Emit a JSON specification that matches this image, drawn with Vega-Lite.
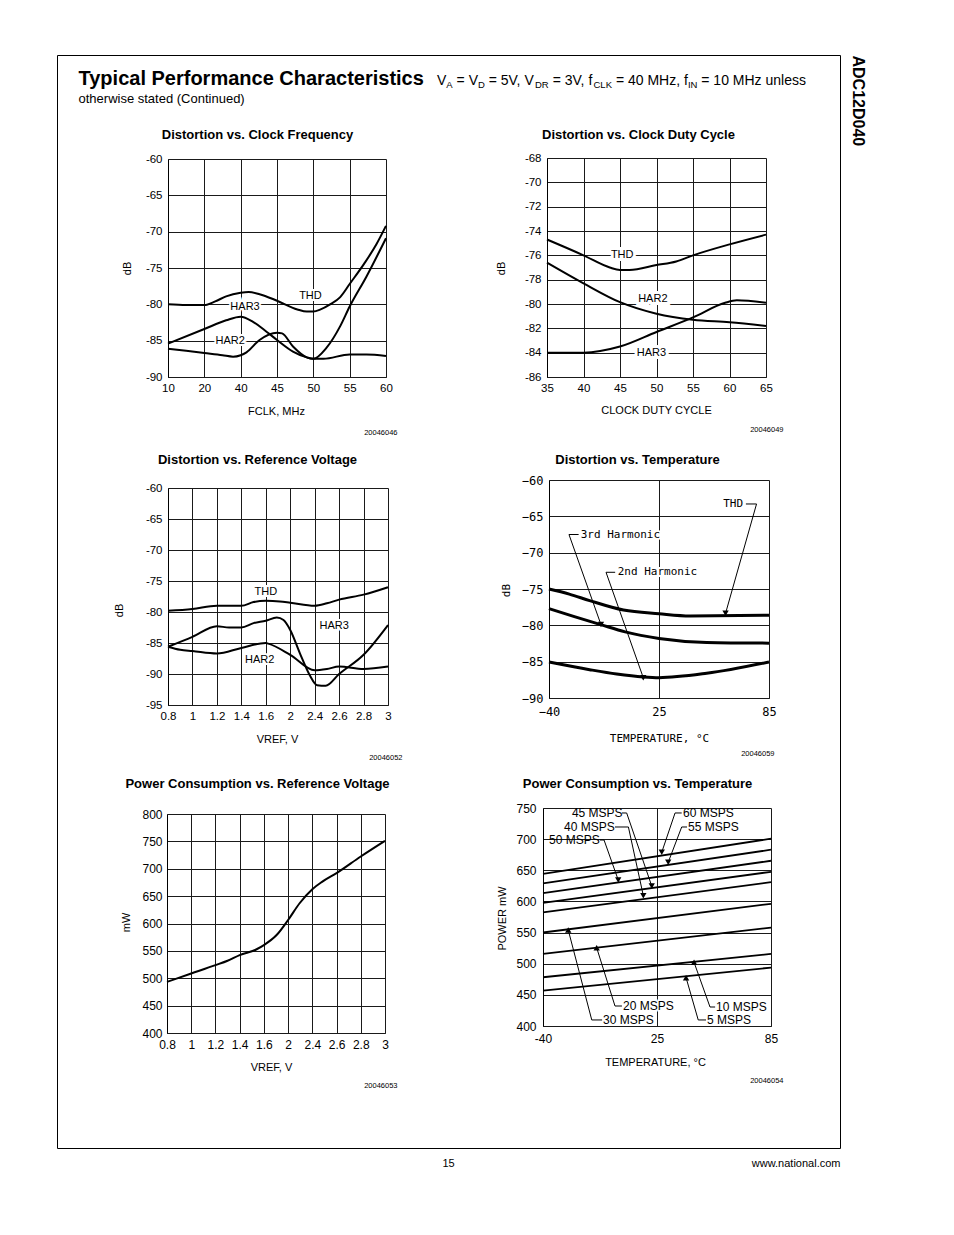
{
  "$schema": "https://vega.github.io/schema/vega-lite/v6.json",
  "width": 954,
  "height": 1235,
  "autosize": "none",
  "padding": 0,
  "background": "#ffffff",
  "config": {
    "font": "Liberation Sans",
    "view": {"stroke": null},
    "axis": {
      "grid": false, "labelFlush": false, "labelOverlap": false,
      "labelFontSize": 11.5, "labelColor": "#000000", "titleColor": "#000000",
      "titleFontSize": 11, "titleFontWeight": "normal", "titleLimit": 1000, "labelLimit": 1000,
      "tickColor": "#1a1a1a", "domainColor": "#000000", "tickWidth": 1, "domainWidth": 1,
      "titleBaseline": "middle", "titleAlign": "center"
    }
  },
  "resolve": {"scale": {"x": "independent", "y": "independent"}, "axis": {"x": "independent", "y": "independent"}},
  "layer": [
    {
      "resolve": {"axis": {"x": "independent", "y": "independent"}},
      "layer": [
        {
          "data": {"values": []},
          "mark": "point",
          "encoding": {
            "x": {"field": "px", "type": "quantitative", "scale": {"domain": [0, 1], "range": [57, 840], "nice": false, "zero": false},
              "axis": {"orient": "top", "offset": -55, "ticks": false, "labels": false, "domain": true, "title": "Typical Performance Characteristics", "titleX": 78, "titleY": 29, "titleAlign": "left", "titleBaseline": "alphabetic", "titleFontSize": 20, "titleFontWeight": "bold"}},
            "y": {"field": "py", "type": "quantitative", "scale": {"domain": [0, 1], "range": [1148, 55], "nice": false, "zero": false},
              "axis": {"orient": "left", "offset": -57, "ticks": false, "labels": false, "domain": true, "title": "V", "titleAngle": 0, "titleX": 379.5, "titleY": 84, "titleAlign": "left", "titleBaseline": "alphabetic", "titleFontSize": 14}}
          }
        },
        {
          "data": {"values": []},
          "mark": "point",
          "encoding": {
            "x": {"field": "px", "type": "quantitative", "scale": {"domain": [0, 1], "range": [57, 840], "nice": false, "zero": false},
              "axis": {"orient": "top", "offset": 0, "ticks": false, "labels": false, "domain": false, "title": "A", "titleX": 445.8, "titleY": 87, "titleAlign": "left", "titleBaseline": "alphabetic", "titleFontSize": 9.5}},
            "y": {"field": "py", "type": "quantitative", "scale": {"domain": [0, 1], "range": [1148, 55], "nice": false, "zero": false},
              "axis": {"orient": "right", "offset": -954, "ticks": false, "labels": false, "domain": false, "title": "= V", "titleAngle": 0, "titleX": 456.1, "titleY": 84, "titleAlign": "left", "titleBaseline": "alphabetic", "titleFontSize": 14}}
          }
        },
        {
          "data": {"values": []},
          "mark": "point",
          "encoding": {
            "x": {"field": "px", "type": "quantitative", "scale": {"domain": [0, 1], "range": [57, 840], "nice": false, "zero": false},
              "axis": {"orient": "top", "offset": 0, "ticks": false, "labels": false, "domain": false, "title": "D", "titleX": 477.5, "titleY": 87, "titleAlign": "left", "titleBaseline": "alphabetic", "titleFontSize": 9.5}},
            "y": {"field": "py", "type": "quantitative", "scale": {"domain": [0, 1], "range": [1148, 55], "nice": false, "zero": false},
              "axis": {"orient": "right", "offset": -954, "ticks": false, "labels": false, "domain": false, "title": "= 5V, V", "titleAngle": 0, "titleX": 488.2, "titleY": 84, "titleAlign": "left", "titleBaseline": "alphabetic", "titleFontSize": 14}}
          }
        },
        {
          "data": {"values": []},
          "mark": "point",
          "encoding": {
            "x": {"field": "px", "type": "quantitative", "scale": {"domain": [0, 1], "range": [57, 840], "nice": false, "zero": false},
              "axis": {"orient": "top", "offset": 0, "ticks": false, "labels": false, "domain": false, "title": "DR", "titleX": 534.5, "titleY": 87, "titleAlign": "left", "titleBaseline": "alphabetic", "titleFontSize": 9.5}},
            "y": {"field": "py", "type": "quantitative", "scale": {"domain": [0, 1], "range": [1148, 55], "nice": false, "zero": false},
              "axis": {"orient": "right", "offset": -954, "ticks": false, "labels": false, "domain": false, "title": "= 3V, f", "titleAngle": 0, "titleX": 552.2, "titleY": 84, "titleAlign": "left", "titleBaseline": "alphabetic", "titleFontSize": 14}}
          }
        },
        {
          "data": {"values": []},
          "mark": "point",
          "encoding": {
            "x": {"field": "px", "type": "quantitative", "scale": {"domain": [0, 1], "range": [57, 840], "nice": false, "zero": false},
              "axis": {"orient": "top", "offset": 0, "ticks": false, "labels": false, "domain": false, "title": "CLK", "titleX": 593.0, "titleY": 87, "titleAlign": "left", "titleBaseline": "alphabetic", "titleFontSize": 9.5}},
            "y": {"field": "py", "type": "quantitative", "scale": {"domain": [0, 1], "range": [1148, 55], "nice": false, "zero": false},
              "axis": {"orient": "right", "offset": -954, "ticks": false, "labels": false, "domain": false, "title": "= 40 MHz, f", "titleAngle": 0, "titleX": 615.4, "titleY": 84, "titleAlign": "left", "titleBaseline": "alphabetic", "titleFontSize": 14}}
          }
        },
        {
          "data": {"values": []},
          "mark": "point",
          "encoding": {
            "x": {"field": "px", "type": "quantitative", "scale": {"domain": [0, 1], "range": [57, 840], "nice": false, "zero": false},
              "axis": {"orient": "top", "offset": 0, "ticks": false, "labels": false, "domain": false, "title": "IN", "titleX": 687.4, "titleY": 87, "titleAlign": "left", "titleBaseline": "alphabetic", "titleFontSize": 9.5}},
            "y": {"field": "py", "type": "quantitative", "scale": {"domain": [0, 1], "range": [1148, 55], "nice": false, "zero": false},
              "axis": {"orient": "right", "offset": -954, "ticks": false, "labels": false, "domain": false, "title": "= 10 MHz unless", "titleAngle": 0, "titleX": 700.8, "titleY": 84, "titleAlign": "left", "titleBaseline": "alphabetic", "titleFontSize": 14}}
          }
        },
        {
          "data": {"values": []},
          "mark": "point",
          "encoding": {
            "x": {"field": "px", "type": "quantitative", "scale": {"domain": [0, 1], "range": [57, 840], "nice": false, "zero": false},
              "axis": {"orient": "bottom", "offset": -87, "ticks": false, "labels": false, "domain": true, "title": "otherwise stated  (Continued)", "titleX": 78, "titleY": -1046, "titleAlign": "left", "titleBaseline": "alphabetic", "titleFontSize": 13}},
            "y": {"field": "py", "type": "quantitative", "scale": {"domain": [0, 1], "range": [1148, 55], "nice": false, "zero": false},
              "axis": {"orient": "right", "offset": -114, "ticks": false, "labels": false, "domain": true, "title": "ADC12D040", "titleAngle": 90, "titleX": 17, "titleY": 55, "titleAlign": "left", "titleBaseline": "middle", "titleFontSize": 16, "titleFontWeight": "bold"}}
          }
        },
        {
          "data": {"values": []},
          "mark": "point",
          "encoding": {
            "x": {"field": "px", "type": "quantitative", "scale": {"domain": [0, 1], "range": [57, 840], "nice": false, "zero": false},
              "axis": {"orient": "bottom", "offset": -87, "ticks": false, "labels": false, "domain": false, "title": "15", "titleX": 448, "titleY": 15, "titleFontSize": 11}},
            "y": {"field": "py", "type": "quantitative", "scale": {"domain": [0, 1], "range": [1148, 55], "nice": false, "zero": false},
              "axis": {"orient": "right", "offset": -114, "ticks": false, "labels": false, "domain": false, "title": "www.national.com", "titleAngle": 0, "titleX": 0, "titleY": 1163, "titleAlign": "right", "titleFontSize": 11}}
          }
        }
      ]
    },
    {
      "resolve": {"axis": {"x": "independent", "y": "independent"}},
      "layer": [
        {
          "data": {"values": [{"t": "THD", "f": 49.6, "db": -78.8}, {"t": "HAR3", "f": 40.6, "db": -80.3}, {"t": "HAR2", "f": 34.2, "db": -85.1}]},
          "mark": {"type": "text", "fontSize": 11, "fill": "#ffffff", "stroke": "#ffffff", "strokeWidth": 4, "align": "center", "baseline": "middle"},
          "encoding": {
            "x": {"field": "f", "type": "quantitative", "scale": {"domain": [10, 20, 40, 45, 50, 55, 60], "range": [168, 204.33, 240.67, 277, 313.33, 349.67, 386], "nice": false, "zero": false},
              "axis": {"orient": "top", "offset": 0, "ticks": false, "labels": false, "domain": false, "title": "Distortion vs. Clock Frequency", "titleX": 257, "titleY": 134, "titleFontSize": 13, "titleFontWeight": "bold"}},
            "y": {"field": "db", "type": "quantitative", "scale": {"domain": [-90, -60], "range": [377, 159], "nice": false, "zero": false},
              "axis": {"orient": "right", "offset": -954, "ticks": false, "labels": false, "domain": false, "title": "20046046", "titleAngle": 0, "titleX": 397, "titleY": 432, "titleAlign": "right", "titleFontSize": 7.5}},
            "text": {"field": "t", "type": "nominal"}
          }
        },
        {
          "data": {"values": [
            {"s": "THD", "f": 10, "db": -80.0}, {"s": "THD", "f": 15, "db": -80.1}, {"s": "THD", "f": 20, "db": -80.1}, {"s": "THD", "f": 26, "db": -79.6}, {"s": "THD", "f": 32, "db": -78.9}, {"s": "THD", "f": 40, "db": -78.4}, {"s": "THD", "f": 41.1, "db": -78.3}, {"s": "THD", "f": 42.6, "db": -78.6}, {"s": "THD", "f": 45, "db": -79.5}, {"s": "THD", "f": 47.8, "db": -80.7}, {"s": "THD", "f": 49.1, "db": -81.0}, {"s": "THD", "f": 50, "db": -81.0}, {"s": "THD", "f": 51, "db": -80.7}, {"s": "THD", "f": 52.3, "db": -80.0}, {"s": "THD", "f": 53.7, "db": -79.0}, {"s": "THD", "f": 55, "db": -77.2}, {"s": "THD", "f": 57, "db": -74.4}, {"s": "THD", "f": 58.7, "db": -71.7}, {"s": "THD", "f": 60, "db": -69.2},
            {"s": "HAR3", "f": 10, "db": -85.4}, {"s": "HAR3", "f": 20, "db": -83.4}, {"s": "HAR3", "f": 32, "db": -82.2}, {"s": "HAR3", "f": 40, "db": -81.7}, {"s": "HAR3", "f": 41.7, "db": -82.4}, {"s": "HAR3", "f": 43.6, "db": -83.8}, {"s": "HAR3", "f": 45, "db": -84.9}, {"s": "HAR3", "f": 47.2, "db": -86.5}, {"s": "HAR3", "f": 49.1, "db": -87.3}, {"s": "HAR3", "f": 50, "db": -87.5}, {"s": "HAR3", "f": 51.8, "db": -86.0}, {"s": "HAR3", "f": 53.7, "db": -83.0}, {"s": "HAR3", "f": 55, "db": -80.3}, {"s": "HAR3", "f": 57.3, "db": -76.2}, {"s": "HAR3", "f": 60, "db": -70.9},
            {"s": "HAR2", "f": 10, "db": -86.1}, {"s": "HAR2", "f": 20, "db": -86.7}, {"s": "HAR2", "f": 30, "db": -87.0}, {"s": "HAR2", "f": 35.8, "db": -87.2}, {"s": "HAR2", "f": 40, "db": -87.0}, {"s": "HAR2", "f": 40.8, "db": -86.6}, {"s": "HAR2", "f": 42.6, "db": -84.9}, {"s": "HAR2", "f": 45, "db": -83.9}, {"s": "HAR2", "f": 45.7, "db": -84.0}, {"s": "HAR2", "f": 47.2, "db": -85.8}, {"s": "HAR2", "f": 49.1, "db": -87.3}, {"s": "HAR2", "f": 50, "db": -87.5}, {"s": "HAR2", "f": 51.4, "db": -87.5}, {"s": "HAR2", "f": 55, "db": -86.9}, {"s": "HAR2", "f": 57.3, "db": -86.9}, {"s": "HAR2", "f": 60, "db": -87.1}
          ]},
          "mark": {"type": "line", "color": "#000000", "strokeWidth": 2, "interpolate": "monotone"},
          "encoding": {
            "x": {"field": "f", "type": "quantitative", "scale": {"domain": [10, 20, 40, 45, 50, 55, 60], "range": [168, 204.33, 240.67, 277, 313.33, 349.67, 386], "nice": false, "zero": false},
              "axis": {"orient": "bottom", "offset": -858, "values": [10, 20, 40, 45, 50, 55, 60], "tickSize": -218, "labelPadding": 223, "labelExpr": "'' + datum.value", "title": "FCLK, MHz", "titleX": 276, "titleY": 34}},
            "y": {"field": "db", "type": "quantitative", "scale": {"domain": [-90, -60], "range": [377, 159], "nice": false, "zero": false},
              "axis": {"orient": "left", "offset": -168, "values": [-90, -85, -80, -75, -70, -65, -60], "tickSize": -218, "labelPadding": 224, "labelExpr": "'' + datum.value", "title": "dB", "titleX": -41, "titleY": 268, "titleAngle": -90}},
            "detail": {"field": "s", "type": "nominal"}
          }
        },
        {
          "data": {"values": [{"t": "THD", "f": 49.6, "db": -78.8}, {"t": "HAR3", "f": 40.6, "db": -80.3}, {"t": "HAR2", "f": 34.2, "db": -85.1}]},
          "mark": {"type": "text", "fontSize": 11, "fill": "#000000", "align": "center", "baseline": "middle"},
          "encoding": {
            "x": {"field": "f", "type": "quantitative", "scale": {"domain": [10, 20, 40, 45, 50, 55, 60], "range": [168, 204.33, 240.67, 277, 313.33, 349.67, 386], "nice": false, "zero": false}, "axis": null},
            "y": {"field": "db", "type": "quantitative", "scale": {"domain": [-90, -60], "range": [377, 159], "nice": false, "zero": false}, "axis": null},
            "text": {"field": "t", "type": "nominal"}
          }
        }
      ]
    },
    {
      "resolve": {"axis": {"x": "independent", "y": "independent"}},
      "layer": [
        {
          "data": {"values": [{"t": "THD", "d": 45.3, "db": -76.0}, {"t": "HAR2", "d": 49.5, "db": -79.6}, {"t": "HAR3", "d": 49.3, "db": -84.0}]},
          "mark": {"type": "text", "fontSize": 11, "fill": "#ffffff", "stroke": "#ffffff", "strokeWidth": 6, "align": "center", "baseline": "middle"},
          "encoding": {
            "x": {"field": "d", "type": "quantitative", "scale": {"domain": [35, 65], "range": [547, 766], "nice": false, "zero": false},
              "axis": {"orient": "top", "offset": 0, "ticks": false, "labels": false, "domain": false, "title": "Distortion vs. Clock Duty Cycle", "titleX": 638, "titleY": 134, "titleFontSize": 13, "titleFontWeight": "bold"}},
            "y": {"field": "db", "type": "quantitative", "scale": {"domain": [-86, -68], "range": [377, 158], "nice": false, "zero": false},
              "axis": {"orient": "right", "offset": -954, "ticks": false, "labels": false, "domain": false, "title": "20046049", "titleAngle": 0, "titleX": 783, "titleY": 429, "titleAlign": "right", "titleFontSize": 7.5}},
            "text": {"field": "t", "type": "nominal"}
          }
        },
        {
          "data": {"values": [
            {"s": "THD", "d": 35, "db": -74.7}, {"s": "THD", "d": 40, "db": -76.0}, {"s": "THD", "d": 43.6, "db": -77.0}, {"s": "THD", "d": 45, "db": -77.2}, {"s": "THD", "d": 46.3, "db": -77.2}, {"s": "THD", "d": 50, "db": -76.8}, {"s": "THD", "d": 52.7, "db": -76.5}, {"s": "THD", "d": 55, "db": -76.0}, {"s": "THD", "d": 60, "db": -75.1}, {"s": "THD", "d": 65, "db": -74.3},
            {"s": "HAR2", "d": 35, "db": -76.6}, {"s": "HAR2", "d": 40, "db": -78.3}, {"s": "HAR2", "d": 45, "db": -79.85}, {"s": "HAR2", "d": 50, "db": -80.8}, {"s": "HAR2", "d": 55, "db": -81.3}, {"s": "HAR2", "d": 60, "db": -81.5}, {"s": "HAR2", "d": 65, "db": -81.8},
            {"s": "HAR3", "d": 35, "db": -84.0}, {"s": "HAR3", "d": 40, "db": -84.0}, {"s": "HAR3", "d": 45, "db": -83.5}, {"s": "HAR3", "d": 50, "db": -82.3}, {"s": "HAR3", "d": 55, "db": -81.1}, {"s": "HAR3", "d": 59.4, "db": -79.9}, {"s": "HAR3", "d": 61, "db": -79.7}, {"s": "HAR3", "d": 65, "db": -79.9}
          ]},
          "mark": {"type": "line", "color": "#000000", "strokeWidth": 2, "interpolate": "monotone"},
          "encoding": {
            "x": {"field": "d", "type": "quantitative", "scale": {"domain": [35, 65], "range": [547, 766], "nice": false, "zero": false},
              "axis": {"orient": "bottom", "offset": -858, "values": [35, 40, 45, 50, 55, 60, 65], "tickSize": -219, "labelPadding": 224, "labelExpr": "'' + datum.value", "title": "CLOCK DUTY CYCLE", "titleX": 656, "titleY": 33}},
            "y": {"field": "db", "type": "quantitative", "scale": {"domain": [-86, -68], "range": [377, 158], "nice": false, "zero": false},
              "axis": {"orient": "left", "offset": -547, "values": [-86, -84, -82, -80, -78, -76, -74, -72, -70, -68], "tickSize": -219, "labelPadding": 225, "labelExpr": "'' + datum.value", "title": "dB", "titleX": -46, "titleY": 268, "titleAngle": -90}},
            "detail": {"field": "s", "type": "nominal"}
          }
        },
        {
          "data": {"values": [{"t": "THD", "d": 45.3, "db": -76.0}, {"t": "HAR2", "d": 49.5, "db": -79.6}, {"t": "HAR3", "d": 49.3, "db": -84.0}]},
          "mark": {"type": "text", "fontSize": 11, "fill": "#000000", "align": "center", "baseline": "middle"},
          "encoding": {
            "x": {"field": "d", "type": "quantitative", "scale": {"domain": [35, 65], "range": [547, 766], "nice": false, "zero": false}, "axis": null},
            "y": {"field": "db", "type": "quantitative", "scale": {"domain": [-86, -68], "range": [377, 158], "nice": false, "zero": false}, "axis": null},
            "text": {"field": "t", "type": "nominal"}
          }
        }
      ]
    },
    {
      "resolve": {"axis": {"x": "independent", "y": "independent"}},
      "layer": [
        {
          "data": {"values": [{"t": "THD", "v": 1.6, "db": -76.7}, {"t": "HAR3", "v": 2.56, "db": -82.2}, {"t": "HAR2", "v": 1.55, "db": -87.7}]},
          "mark": {"type": "text", "fontSize": 11, "fill": "#ffffff", "stroke": "#ffffff", "strokeWidth": 4, "align": "center", "baseline": "middle"},
          "encoding": {
            "x": {"field": "v", "type": "quantitative", "scale": {"domain": [0.8, 1, 1.2, 1.4, 1.6, 2, 2.4, 2.6, 2.8, 3], "range": [168, 192.44, 216.89, 241.33, 265.78, 290.22, 314.67, 339.11, 363.56, 388], "nice": false, "zero": false},
              "axis": {"orient": "top", "offset": 0, "ticks": false, "labels": false, "domain": false, "title": "Distortion vs. Reference Voltage", "titleX": 257, "titleY": 459, "titleFontSize": 13, "titleFontWeight": "bold"}},
            "y": {"field": "db", "type": "quantitative", "scale": {"domain": [-95, -60], "range": [705, 488], "nice": false, "zero": false},
              "axis": {"orient": "right", "offset": -954, "ticks": false, "labels": false, "domain": false, "title": "20046052", "titleAngle": 0, "titleX": 402, "titleY": 757, "titleAlign": "right", "titleFontSize": 7.5}},
            "text": {"field": "t", "type": "nominal"}
          }
        },
        {
          "data": {"values": [
            {"s": "THD", "v": 0.8, "db": -79.8}, {"s": "THD", "v": 1.0, "db": -79.5}, {"s": "THD", "v": 1.2, "db": -79.0}, {"s": "THD", "v": 1.4, "db": -79.0}, {"s": "THD", "v": 1.5, "db": -78.4}, {"s": "THD", "v": 1.6, "db": -78.2}, {"s": "THD", "v": 1.83, "db": -78.3}, {"s": "THD", "v": 2.0, "db": -78.5}, {"s": "THD", "v": 2.4, "db": -79.0}, {"s": "THD", "v": 2.5, "db": -78.6}, {"s": "THD", "v": 2.6, "db": -78.0}, {"s": "THD", "v": 2.8, "db": -77.2}, {"s": "THD", "v": 3.0, "db": -76.0},
            {"s": "HAR3", "v": 0.8, "db": -85.6}, {"s": "HAR3", "v": 1.0, "db": -84.0}, {"s": "HAR3", "v": 1.2, "db": -82.3}, {"s": "HAR3", "v": 1.3, "db": -82.5}, {"s": "HAR3", "v": 1.4, "db": -82.5}, {"s": "HAR3", "v": 1.5, "db": -81.8}, {"s": "HAR3", "v": 1.6, "db": -81.4}, {"s": "HAR3", "v": 1.78, "db": -80.9}, {"s": "HAR3", "v": 1.89, "db": -81.3}, {"s": "HAR3", "v": 2.0, "db": -82.9}, {"s": "HAR3", "v": 2.16, "db": -86.7}, {"s": "HAR3", "v": 2.32, "db": -90.2}, {"s": "HAR3", "v": 2.42, "db": -91.8}, {"s": "HAR3", "v": 2.49, "db": -91.9}, {"s": "HAR3", "v": 2.6, "db": -90.0}, {"s": "HAR3", "v": 2.8, "db": -86.9}, {"s": "HAR3", "v": 3.0, "db": -82.1},
            {"s": "HAR2", "v": 0.8, "db": -85.6}, {"s": "HAR2", "v": 0.9, "db": -86.1}, {"s": "HAR2", "v": 1.0, "db": -86.3}, {"s": "HAR2", "v": 1.2, "db": -86.7}, {"s": "HAR2", "v": 1.4, "db": -85.8}, {"s": "HAR2", "v": 1.6, "db": -85.0}, {"s": "HAR2", "v": 1.64, "db": -85.1}, {"s": "HAR2", "v": 2.0, "db": -86.9}, {"s": "HAR2", "v": 2.4, "db": -89.4}, {"s": "HAR2", "v": 2.5, "db": -89.2}, {"s": "HAR2", "v": 2.6, "db": -88.8}, {"s": "HAR2", "v": 2.8, "db": -89.2}, {"s": "HAR2", "v": 3.0, "db": -88.8}
          ]},
          "mark": {"type": "line", "color": "#000000", "strokeWidth": 2, "interpolate": "monotone"},
          "encoding": {
            "x": {"field": "v", "type": "quantitative", "scale": {"domain": [0.8, 1, 1.2, 1.4, 1.6, 2, 2.4, 2.6, 2.8, 3], "range": [168, 192.44, 216.89, 241.33, 265.78, 290.22, 314.67, 339.11, 363.56, 388], "nice": false, "zero": false},
              "axis": {"orient": "bottom", "offset": -530, "values": [0.8, 1, 1.2, 1.4, 1.6, 2, 2.4, 2.6, 2.8, 3], "tickSize": -217, "labelPadding": 222, "labelExpr": "'' + datum.value", "title": "VREF, V", "titleX": 277, "titleY": 34}},
            "y": {"field": "db", "type": "quantitative", "scale": {"domain": [-95, -60], "range": [705, 488], "nice": false, "zero": false},
              "axis": {"orient": "left", "offset": -168, "values": [-95, -90, -85, -80, -75, -70, -65, -60], "tickSize": -220, "labelPadding": 226, "labelExpr": "'' + datum.value", "title": "dB", "titleX": -49, "titleY": 610, "titleAngle": -90}},
            "detail": {"field": "s", "type": "nominal"}
          }
        },
        {
          "data": {"values": [{"t": "THD", "v": 1.6, "db": -76.7}, {"t": "HAR3", "v": 2.56, "db": -82.2}, {"t": "HAR2", "v": 1.55, "db": -87.7}]},
          "mark": {"type": "text", "fontSize": 11, "fill": "#000000", "align": "center", "baseline": "middle"},
          "encoding": {
            "x": {"field": "v", "type": "quantitative", "scale": {"domain": [0.8, 1, 1.2, 1.4, 1.6, 2, 2.4, 2.6, 2.8, 3], "range": [168, 192.44, 216.89, 241.33, 265.78, 290.22, 314.67, 339.11, 363.56, 388], "nice": false, "zero": false}, "axis": null},
            "y": {"field": "db", "type": "quantitative", "scale": {"domain": [-95, -60], "range": [705, 488], "nice": false, "zero": false}, "axis": null},
            "text": {"field": "t", "type": "nominal"}
          }
        }
      ]
    },
    {
      "resolve": {"axis": {"x": "independent", "y": "independent"}},
      "layer": [
        {
          "data": {"values": [{"t": "THD", "x": 60.0, "y": -63.3}, {"t": "3rd Harmonic", "x": -21.3, "y": -67.5}, {"t": "2nd Harmonic", "x": 0.6, "y": -72.7}]},
          "mark": {"type": "text", "font": "DejaVu Sans Mono", "fontSize": 11, "fill": "#ffffff", "stroke": "#ffffff", "strokeWidth": 4, "align": "left", "baseline": "middle"},
          "encoding": {
            "x": {"field": "x", "type": "quantitative", "scale": {"domain": [-40, 25, 85], "range": [549, 659, 769], "nice": false, "zero": false},
              "axis": {"orient": "top", "offset": 0, "ticks": false, "labels": false, "domain": false, "title": "Distortion vs. Temperature", "titleX": 637, "titleY": 459, "titleFontSize": 13, "titleFontWeight": "bold"}},
            "y": {"field": "y", "type": "quantitative", "scale": {"domain": [-90, -60], "range": [698, 480], "nice": false, "zero": false},
              "axis": {"orient": "right", "offset": -954, "ticks": false, "labels": false, "domain": false, "title": "20046059", "titleAngle": 0, "titleX": 774, "titleY": 753, "titleAlign": "right", "titleFontSize": 7.5}},
            "text": {"field": "t", "type": "nominal"}
          }
        },
        {
          "data": {"values": [
            {"s": "THD", "t": -40, "db": -75.0}, {"s": "THD", "t": -28, "db": -75.7}, {"s": "THD", "t": -16, "db": -76.6}, {"s": "THD", "t": 4, "db": -77.9}, {"s": "THD", "t": 25, "db": -78.4}, {"s": "THD", "t": 42, "db": -78.7}, {"s": "THD", "t": 85, "db": -78.6},
            {"s": "H3", "t": -40, "db": -77.7}, {"s": "H3", "t": -25, "db": -78.8}, {"s": "H3", "t": -9.4, "db": -79.9}, {"s": "H3", "t": 5, "db": -80.9}, {"s": "H3", "t": 25, "db": -81.8}, {"s": "H3", "t": 51, "db": -82.35}, {"s": "H3", "t": 85, "db": -82.45},
            {"s": "H2", "t": -40, "db": -85.05}, {"s": "H2", "t": -16, "db": -86.1}, {"s": "H2", "t": 0, "db": -86.7}, {"s": "H2", "t": 15.7, "db": -87.1}, {"s": "H2", "t": 25, "db": -87.2}, {"s": "H2", "t": 51, "db": -86.6}, {"s": "H2", "t": 85, "db": -85.05}
          ]},
          "mark": {"type": "line", "color": "#000000", "strokeWidth": 3, "interpolate": "monotone"},
          "encoding": {
            "x": {"field": "t", "type": "quantitative", "scale": {"domain": [-40, 25, 85], "range": [549, 659, 769], "nice": false, "zero": false},
              "axis": {"orient": "bottom", "offset": -537, "values": [-40, 25, 85], "tickSize": -218, "labelPadding": 226, "labelFont": "DejaVu Sans Mono", "labelFontSize": 12, "labelExpr": "replace('' + datum.value, '-', '−')", "title": "TEMPERATURE, °C", "titleFont": "DejaVu Sans Mono", "titleX": 659, "titleY": 40}},
            "y": {"field": "db", "type": "quantitative", "scale": {"domain": [-90, -60], "range": [698, 480], "nice": false, "zero": false},
              "axis": {"orient": "left", "offset": -549, "values": [-90, -85, -80, -75, -70, -65, -60], "tickSize": -220, "labelPadding": 226, "labelFont": "DejaVu Sans Mono", "labelFontSize": 12, "labelExpr": "replace('' + datum.value, '-', '−')", "title": "dB", "titleFont": "DejaVu Sans Mono", "titleX": -43, "titleY": 590, "titleAngle": -90}},
            "detail": {"field": "s", "type": "nominal"}
          }
        },
        {
          "data": {"values": [
            {"x1": 72.4, "y1": -63.3, "x2": 78.2, "y2": -63.3}, {"x1": 78.2, "y1": -63.3, "x2": 61.3, "y2": -78.35},
            {"x1": -28.2, "y1": -67.5, "x2": -22.5, "y2": -67.5}, {"x1": -28.2, "y1": -67.5, "x2": -9.3, "y2": -79.9},
            {"x1": -6.3, "y1": -72.7, "x2": -0.9, "y2": -72.7}, {"x1": -6.3, "y1": -72.7, "x2": 15.7, "y2": -87.2}
          ]},
          "mark": {"type": "rule", "color": "#000000", "strokeWidth": 1},
          "encoding": {
            "x": {"field": "x1", "type": "quantitative", "scale": {"domain": [-40, 25, 85], "range": [549, 659, 769], "nice": false, "zero": false}, "axis": null},
            "y": {"field": "y1", "type": "quantitative", "scale": {"domain": [-90, -60], "range": [698, 480], "nice": false, "zero": false}, "axis": null},
            "x2": {"field": "x2"},
            "y2": {"field": "y2"}
          }
        },
        {
          "data": {"values": [{"x": 61.3, "y": -78.35, "dir": "down"}, {"x": -9.3, "y": -79.9, "dir": "down"}, {"x": 15.7, "y": -87.2, "dir": "down"}]},
          "mark": {"type": "point", "filled": true, "size": 40, "color": "#000000", "opacity": 1},
          "encoding": {
            "x": {"field": "x", "type": "quantitative", "scale": {"domain": [-40, 25, 85], "range": [549, 659, 769], "nice": false, "zero": false}, "axis": null},
            "y": {"field": "y", "type": "quantitative", "scale": {"domain": [-90, -60], "range": [698, 480], "nice": false, "zero": false}, "axis": null},
            "shape": {"field": "dir", "type": "nominal", "scale": {"domain": ["down", "up"], "range": ["triangle-down", "triangle-up"]}, "legend": null}
          }
        },
        {
          "data": {"values": [{"t": "THD", "x": 60.0, "y": -63.3}, {"t": "3rd Harmonic", "x": -21.3, "y": -67.5}, {"t": "2nd Harmonic", "x": 0.6, "y": -72.7}]},
          "mark": {"type": "text", "font": "DejaVu Sans Mono", "fontSize": 11, "fill": "#000000", "align": "left", "baseline": "middle"},
          "encoding": {
            "x": {"field": "x", "type": "quantitative", "scale": {"domain": [-40, 25, 85], "range": [549, 659, 769], "nice": false, "zero": false}, "axis": null},
            "y": {"field": "y", "type": "quantitative", "scale": {"domain": [-90, -60], "range": [698, 480], "nice": false, "zero": false}, "axis": null},
            "text": {"field": "t", "type": "nominal"}
          }
        }
      ]
    },
    {
      "resolve": {"axis": {"x": "independent", "y": "independent"}},
      "layer": [
        {
          "data": {"values": [
            {"v": 0.8, "p": 493.4}, {"v": 1.0, "p": 508.7}, {"v": 1.2, "p": 524.0}, {"v": 1.3, "p": 532.0}, {"v": 1.4, "p": 542.3}, {"v": 1.54, "p": 553.0}, {"v": 1.6, "p": 560.6}, {"v": 1.81, "p": 578.9}, {"v": 2.0, "p": 606.4}, {"v": 2.19, "p": 637.0}, {"v": 2.4, "p": 662.6}, {"v": 2.48, "p": 676.0}, {"v": 2.6, "p": 692.0}, {"v": 2.8, "p": 722.4}, {"v": 3.0, "p": 751.0}
          ]},
          "mark": {"type": "line", "color": "#000000", "strokeWidth": 2, "interpolate": "monotone"},
          "encoding": {
            "x": {"field": "v", "type": "quantitative", "scale": {"domain": [0.8, 1, 1.2, 1.4, 1.6, 2, 2.4, 2.6, 2.8, 3], "range": [167, 191.22, 215.44, 239.67, 263.89, 288.11, 312.33, 336.56, 360.78, 385], "nice": false, "zero": false},
              "axis": {"orient": "bottom", "offset": -202, "values": [0.8, 1, 1.2, 1.4, 1.6, 2, 2.4, 2.6, 2.8, 3], "tickSize": -219, "labelPadding": 225, "labelFontSize": 12, "labelExpr": "'' + datum.value", "title": "VREF, V", "titleX": 271, "titleY": 34}},
            "y": {"field": "p", "type": "quantitative", "scale": {"domain": [400, 800], "range": [1033, 814], "nice": false, "zero": false},
              "axis": {"orient": "left", "offset": -167, "values": [400, 450, 500, 550, 600, 650, 700, 750, 800], "tickSize": -218, "labelPadding": 223, "labelFontSize": 12, "labelExpr": "'' + datum.value", "title": "mW", "titleX": -41, "titleY": 922, "titleAngle": -90}}
          }
        },
        {
          "data": {"values": [{"v": 2.0, "p": 400}]},
          "mark": {"type": "point", "opacity": 0, "size": 0},
          "encoding": {
            "x": {"field": "v", "type": "quantitative", "scale": {"domain": [0.8, 1, 1.2, 1.4, 1.6, 2, 2.4, 2.6, 2.8, 3], "range": [167, 191.22, 215.44, 239.67, 263.89, 288.11, 312.33, 336.56, 360.78, 385], "nice": false, "zero": false},
              "axis": {"orient": "top", "offset": 0, "ticks": false, "labels": false, "domain": false, "title": "Power Consumption vs. Reference Voltage", "titleX": 257, "titleY": 783, "titleFontSize": 13, "titleFontWeight": "bold"}},
            "y": {"field": "p", "type": "quantitative", "scale": {"domain": [400, 800], "range": [1033, 814], "nice": false, "zero": false},
              "axis": {"orient": "right", "offset": -954, "ticks": false, "labels": false, "domain": false, "title": "20046053", "titleAngle": 0, "titleX": 397, "titleY": 1085, "titleAlign": "right", "titleFontSize": 7.5}}
          }
        }
      ]
    },
    {
      "resolve": {"axis": {"x": "independent", "y": "independent"}},
      "layer": [
        {
          "data": {"values": [{"t": "20 MSPS", "x": 5.6, "y": 432.1}, {"t": "30 MSPS", "x": -5.8, "y": 409.7}, {"t": "10 MSPS", "x": 56.1, "y": 430.5}, {"t": "5 MSPS", "x": 51.3, "y": 409.7}]},
          "mark": {"type": "text", "fontSize": 12, "fill": "#ffffff", "stroke": "#ffffff", "strokeWidth": 3, "align": "left", "baseline": "middle"},
          "encoding": {
            "x": {"field": "x", "type": "quantitative", "scale": {"domain": [-40, 25, 85], "range": [543, 657, 771], "nice": false, "zero": false},
              "axis": {"orient": "top", "offset": 0, "ticks": false, "labels": false, "domain": false, "title": "Power Consumption vs. Temperature", "titleX": 637, "titleY": 783, "titleFontSize": 13, "titleFontWeight": "bold"}},
            "y": {"field": "y", "type": "quantitative", "scale": {"domain": [400, 750], "range": [1026, 808], "nice": false, "zero": false},
              "axis": {"orient": "right", "offset": -954, "ticks": false, "labels": false, "domain": false, "title": "20046054", "titleAngle": 0, "titleX": 783, "titleY": 1080, "titleAlign": "right", "titleFontSize": 7.5}},
            "text": {"field": "t", "type": "nominal"}
          }
        },
        {
          "data": {"values": [
            {"s": "60", "t": -40, "p": 644.4}, {"s": "60", "t": 85, "p": 700.7},
            {"s": "55", "t": -40, "p": 628.9}, {"s": "55", "t": 85, "p": 683.0},
            {"s": "50", "t": -40, "p": 613.3}, {"s": "50", "t": 85, "p": 665.3},
            {"s": "45", "t": -40, "p": 597.8}, {"s": "45", "t": 85, "p": 647.6},
            {"s": "40", "t": -40, "p": 582.3}, {"s": "40", "t": 85, "p": 631.0},
            {"s": "30", "t": -40, "p": 550.1}, {"s": "30", "t": 85, "p": 596.2},
            {"s": "20", "t": -40, "p": 515.8}, {"s": "20", "t": 85, "p": 558.0},
            {"s": "10", "t": -40, "p": 478.3}, {"s": "10", "t": 85, "p": 515.8},
            {"s": "5", "t": -40, "p": 456.9}, {"s": "5", "t": 85, "p": 493.8}
          ]},
          "mark": {"type": "line", "color": "#000000", "strokeWidth": 1.8},
          "encoding": {
            "x": {"field": "t", "type": "quantitative", "scale": {"domain": [-40, 25, 85], "range": [543, 657, 771], "nice": false, "zero": false},
              "axis": {"orient": "bottom", "offset": -209, "values": [-40, 25, 85], "tickSize": -218, "labelPadding": 225, "labelFontSize": 12, "labelExpr": "'' + datum.value", "title": "TEMPERATURE, °C", "titleX": 655, "titleY": 36}},
            "y": {"field": "p", "type": "quantitative", "scale": {"domain": [400, 750], "range": [1026, 808], "nice": false, "zero": false},
              "axis": {"orient": "left", "offset": -543, "values": [400, 450, 500, 550, 600, 650, 700, 750], "tickSize": -228, "labelPadding": 235, "labelFontSize": 12, "labelExpr": "'' + datum.value", "title": "POWER mW", "titleX": -41, "titleY": 918, "titleAngle": -90}},
            "detail": {"field": "s", "type": "nominal"}
          }
        },
        {
          "data": {"values": [
            {"x1": 5.0, "y1": 742.0, "x2": 7.7, "y2": 742.0}, {"x1": 7.7, "y1": 742.0, "x2": 22.0, "y2": 624.8},
            {"x1": 1.05, "y1": 719.5, "x2": 8.7, "y2": 719.5}, {"x1": 8.7, "y1": 719.5, "x2": 17.2, "y2": 609.2},
            {"x1": -7.5, "y1": 698.6, "x2": -5.2, "y2": 698.6}, {"x1": -5.2, "y1": 698.6, "x2": 2.9, "y2": 634.4},
            {"x1": 34.5, "y1": 742.0, "x2": 38.0, "y2": 742.0}, {"x1": 34.5, "y1": 742.0, "x2": 27.5, "y2": 678.9},
            {"x1": 38.0, "y1": 719.5, "x2": 40.8, "y2": 719.5}, {"x1": 38.0, "y1": 719.5, "x2": 30.9, "y2": 662.8},
            {"x1": 1.05, "y1": 432.1, "x2": 5.0, "y2": 432.1}, {"x1": 1.05, "y1": 432.1, "x2": -9.4, "y2": 525.7},
            {"x1": -12.2, "y1": 409.7, "x2": -6.3, "y2": 409.7}, {"x1": -12.2, "y1": 409.7, "x2": -25.6, "y2": 554.1},
            {"x1": 52.9, "y1": 430.5, "x2": 55.6, "y2": 430.5}, {"x1": 52.9, "y1": 430.5, "x2": 44.5, "y2": 502.3},
            {"x1": 46.7, "y1": 409.7, "x2": 50.8, "y2": 409.7}, {"x1": 46.7, "y1": 409.7, "x2": 40.3, "y2": 477.6}
          ]},
          "mark": {"type": "rule", "color": "#000000", "strokeWidth": 1},
          "encoding": {
            "x": {"field": "x1", "type": "quantitative", "scale": {"domain": [-40, 25, 85], "range": [543, 657, 771], "nice": false, "zero": false}, "axis": null},
            "y": {"field": "y1", "type": "quantitative", "scale": {"domain": [400, 750], "range": [1026, 808], "nice": false, "zero": false}, "axis": null},
            "x2": {"field": "x2"},
            "y2": {"field": "y2"}
          }
        },
        {
          "data": {"values": [
            {"x": 22.0, "y": 624.8, "dir": "down"}, {"x": 17.2, "y": 609.2, "dir": "down"}, {"x": 2.9, "y": 634.4, "dir": "down"}, {"x": 27.5, "y": 678.9, "dir": "down"}, {"x": 30.9, "y": 662.8, "dir": "down"},
            {"x": -9.4, "y": 525.7, "dir": "up"}, {"x": -25.6, "y": 554.1, "dir": "up"}, {"x": 44.5, "y": 502.3, "dir": "up"}, {"x": 40.3, "y": 477.6, "dir": "up"}
          ]},
          "mark": {"type": "point", "filled": true, "size": 40, "color": "#000000", "opacity": 1},
          "encoding": {
            "x": {"field": "x", "type": "quantitative", "scale": {"domain": [-40, 25, 85], "range": [543, 657, 771], "nice": false, "zero": false}, "axis": null},
            "y": {"field": "y", "type": "quantitative", "scale": {"domain": [400, 750], "range": [1026, 808], "nice": false, "zero": false}, "axis": null},
            "shape": {"field": "dir", "type": "nominal", "scale": {"domain": ["down", "up"], "range": ["triangle-down", "triangle-up"]}, "legend": null}
          }
        },
        {
          "data": {"values": [
            {"t": "45 MSPS", "x": -23.5, "y": 742.0}, {"t": "40 MSPS", "x": -28.0, "y": 719.5}, {"t": "50 MSPS", "x": -36.6, "y": 698.6}, {"t": "60 MSPS", "x": 38.7, "y": 742.0}, {"t": "55 MSPS", "x": 41.3, "y": 719.5},
            {"t": "20 MSPS", "x": 5.6, "y": 432.1}, {"t": "30 MSPS", "x": -5.8, "y": 409.7}, {"t": "10 MSPS", "x": 56.1, "y": 430.5}, {"t": "5 MSPS", "x": 51.3, "y": 409.7}
          ]},
          "mark": {"type": "text", "fontSize": 12, "fill": "#000000", "align": "left", "baseline": "middle"},
          "encoding": {
            "x": {"field": "x", "type": "quantitative", "scale": {"domain": [-40, 25, 85], "range": [543, 657, 771], "nice": false, "zero": false}, "axis": null},
            "y": {"field": "y", "type": "quantitative", "scale": {"domain": [400, 750], "range": [1026, 808], "nice": false, "zero": false}, "axis": null},
            "text": {"field": "t", "type": "nominal"}
          }
        }
      ]
    }
  ]
}
